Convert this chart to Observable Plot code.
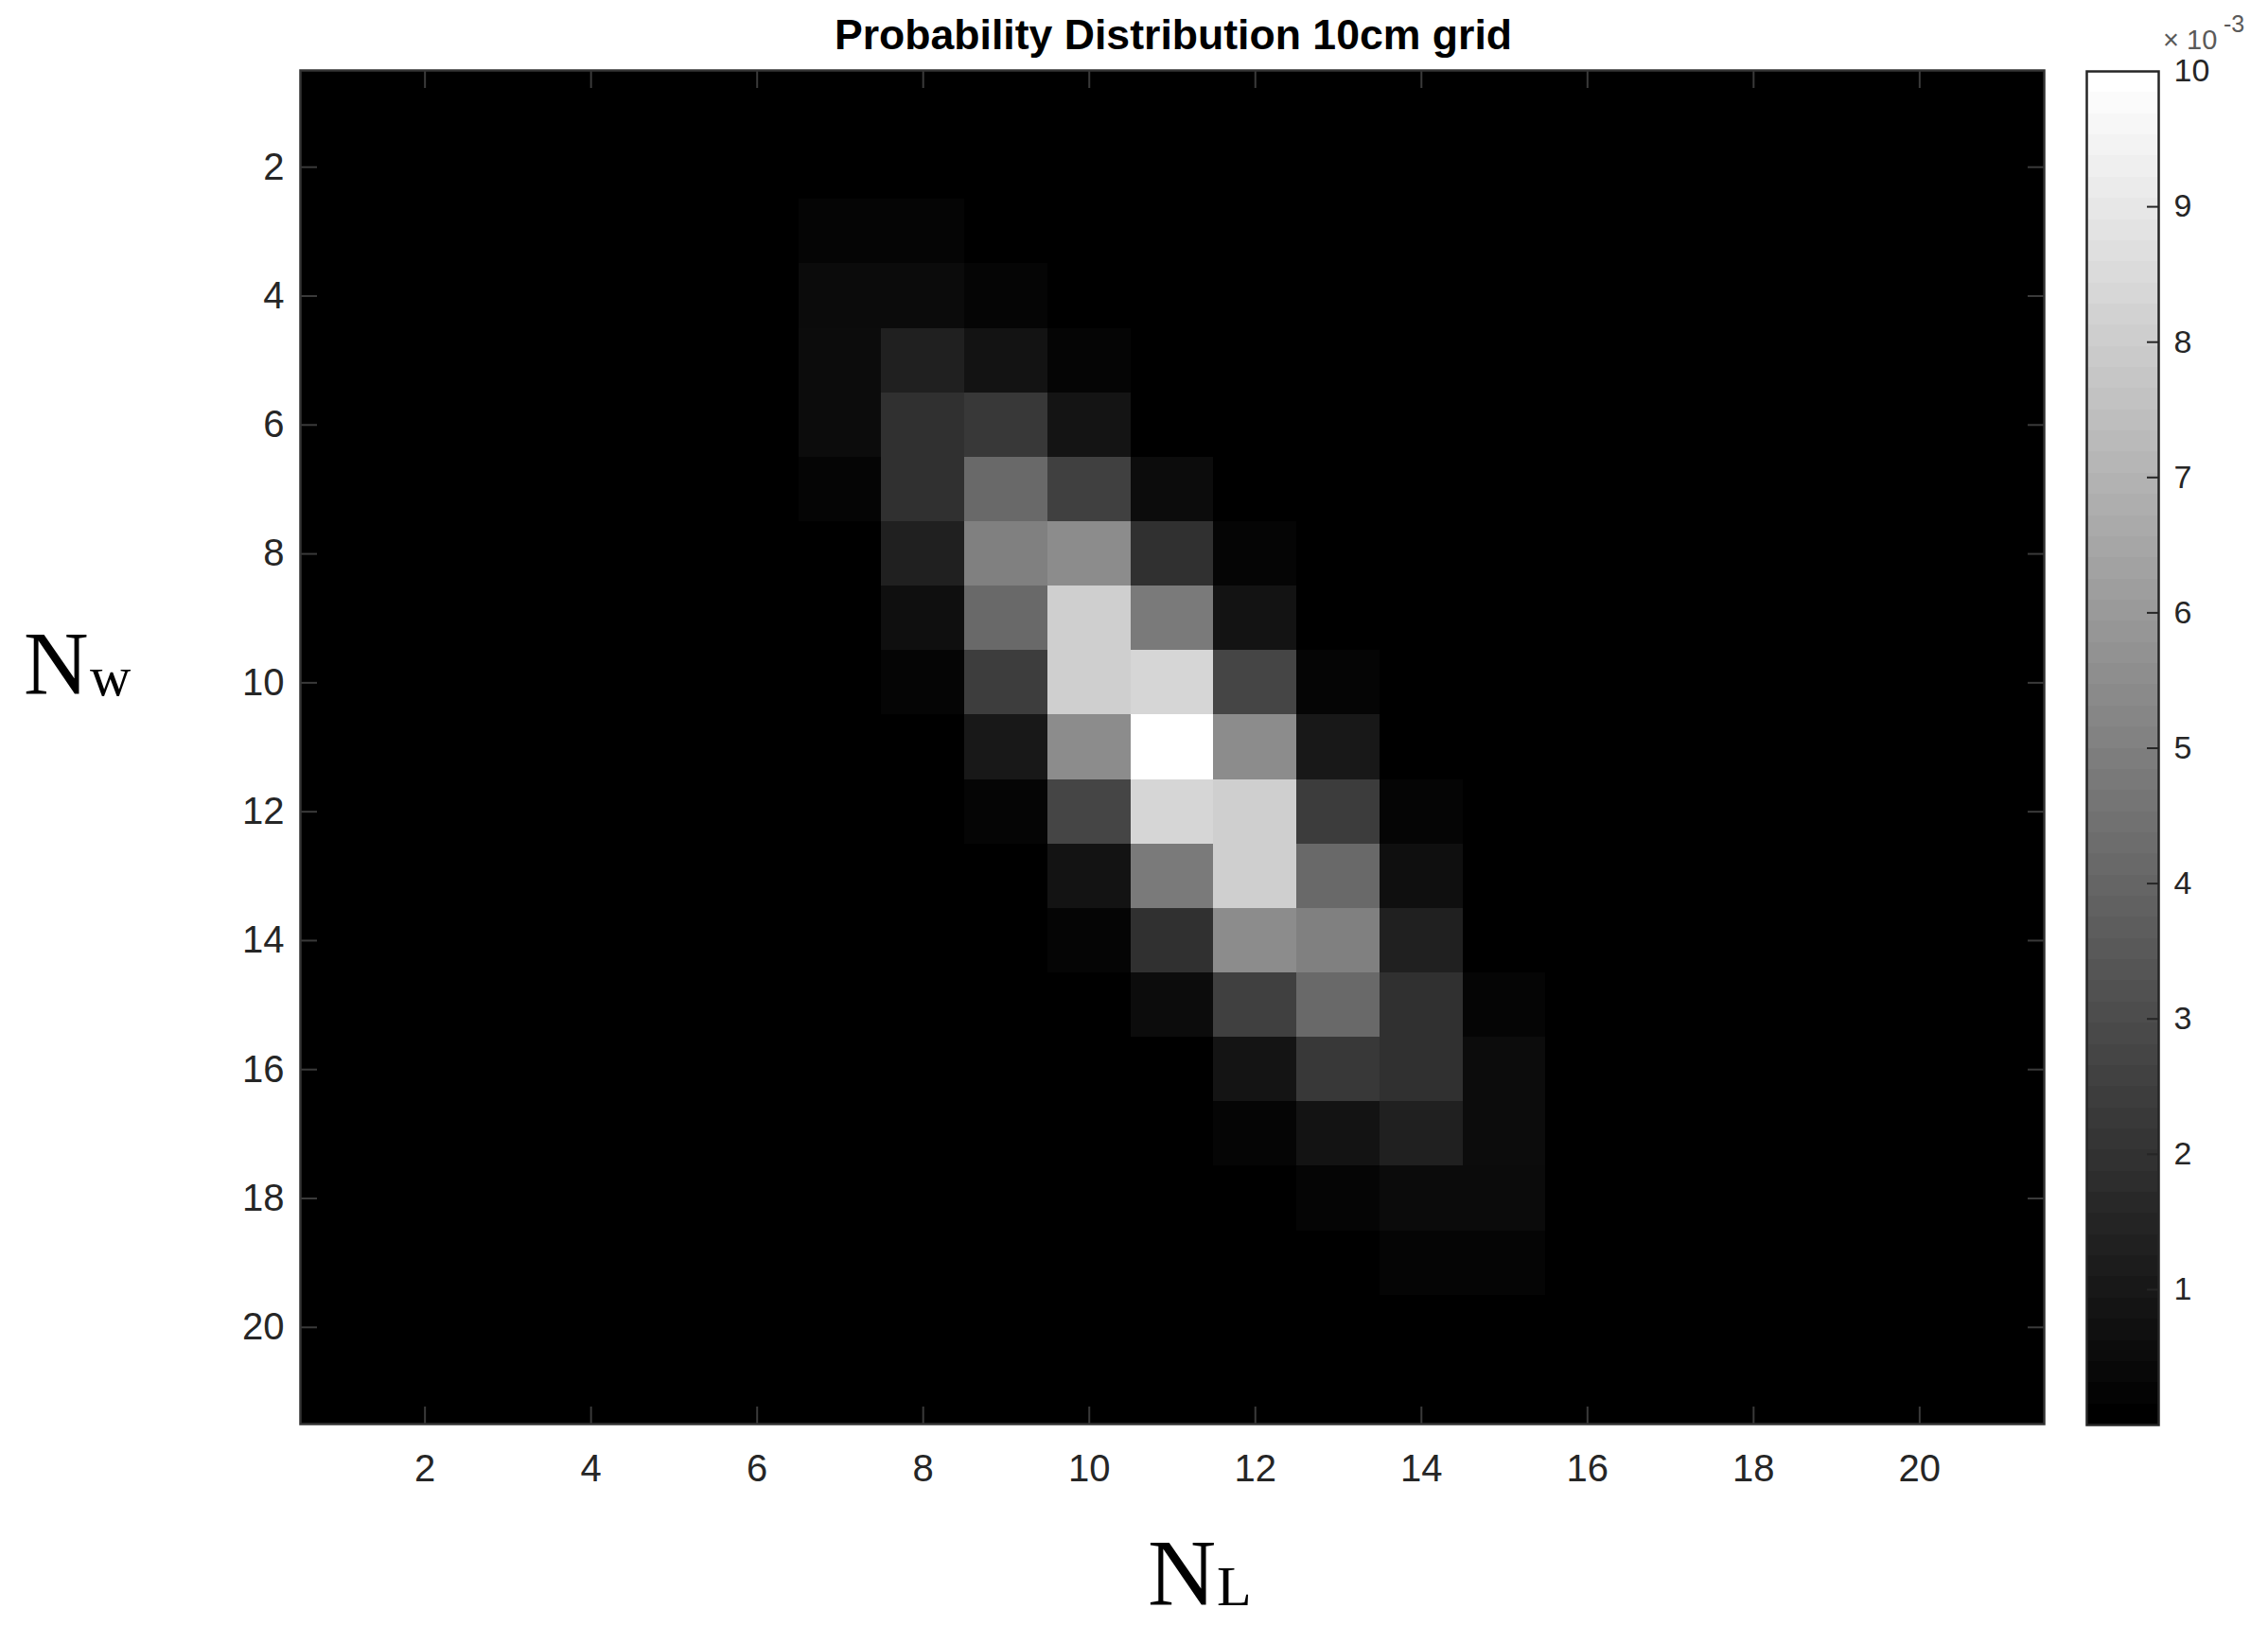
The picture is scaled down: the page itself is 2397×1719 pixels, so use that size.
<!DOCTYPE html>
<html>
<head>
<meta charset="utf-8">
<script src="https://cdn.jsdelivr.net/npm/d3@7"></script>
<script src="https://cdn.jsdelivr.net/npm/@observablehq/plot@0.6"></script>
<style>
html, body { margin: 0; padding: 0; background: #fff; }
#page { position: relative; width: 2397px; height: 1719px; overflow: hidden; background: #fff; }
.abs { position: absolute; white-space: nowrap; line-height: 1; }
.plot { position: absolute; top: 0; }
.serif { font-family: "Liberation Serif", "Times New Roman", serif; color: #000; }
</style>
</head>
<body>
<div id="page"></div>
<script>
// ---------- data ----------
const titleText = "Probability Distribution 10cm grid";
const nl = [1,2,3,4,5,6,7,8,9,10,11,12,13,14,15,16,17,18,19,20,21];   // columns (N_L)
const nw = [1,2,3,4,5,6,7,8,9,10,11,12,13,14,15,16,17,18,19,20,21];   // rows (N_W)
const nlTicks = [2,4,6,8,10,12,14,16,18,20];
const nwTicks = [2,4,6,8,10,12,14,16,18,20];
const colorbarTicks = [1,2,3,4,5,6,7,8,9,10];
const colorbarMax = 10;   // ×10^-3

// probability per cell, in units of 10^-3 (row = N_W, column = N_L)
const probRows = [
  [0,0,0,0,0,0,0,0,0,0,0,0,0,0,0,0,0,0,0,0,0],
  [0,0,0,0,0,0,0,0,0,0,0,0,0,0,0,0,0,0,0,0,0],
  [0,0,0,0,0,0,0.20,0.18,0,0,0,0,0,0,0,0,0,0,0,0,0],
  [0,0,0,0,0,0,0.43,0.43,0.20,0,0,0,0,0,0,0,0,0,0,0,0],
  [0,0,0,0,0,0,0.47,1.25,0.75,0.20,0,0,0,0,0,0,0,0,0,0,0],
  [0,0,0,0,0,0,0.47,1.88,2.20,0.78,0,0,0,0,0,0,0,0,0,0,0],
  [0,0,0,0,0,0,0.20,1.88,4.10,2.50,0.47,0,0,0,0,0,0,0,0,0,0],
  [0,0,0,0,0,0,0,1.25,5.00,5.50,1.88,0.20,0,0,0,0,0,0,0,0,0],
  [0,0,0,0,0,0,0,0.59,4.10,8.10,4.80,0.75,0,0,0,0,0,0,0,0,0],
  [0,0,0,0,0,0,0,0.20,2.40,8.10,8.40,2.70,0.20,0,0,0,0,0,0,0,0],
  [0,0,0,0,0,0,0,0,0.94,5.50,10.0,5.50,0.94,0,0,0,0,0,0,0,0],
  [0,0,0,0,0,0,0,0,0.20,2.70,8.40,8.10,2.35,0.20,0,0,0,0,0,0,0],
  [0,0,0,0,0,0,0,0,0,0.75,4.80,8.10,4.10,0.59,0,0,0,0,0,0,0],
  [0,0,0,0,0,0,0,0,0,0.20,1.88,5.50,5.00,1.25,0,0,0,0,0,0,0],
  [0,0,0,0,0,0,0,0,0,0,0.47,2.50,4.10,1.88,0.20,0,0,0,0,0,0],
  [0,0,0,0,0,0,0,0,0,0,0,0.78,2.20,1.88,0.47,0,0,0,0,0,0],
  [0,0,0,0,0,0,0,0,0,0,0,0.20,0.75,1.25,0.47,0,0,0,0,0,0],
  [0,0,0,0,0,0,0,0,0,0,0,0,0.20,0.43,0.43,0,0,0,0,0,0],
  [0,0,0,0,0,0,0,0,0,0,0,0,0,0.18,0.20,0,0,0,0,0,0],
  [0,0,0,0,0,0,0,0,0,0,0,0,0,0,0,0,0,0,0,0,0],
  [0,0,0,0,0,0,0,0,0,0,0,0,0,0,0,0,0,0,0,0,0]
];

// ---------- build ----------
const cells = [];
probRows.forEach((row, i) => row.forEach((p, j) => cells.push({nl: nl[j], nw: nw[i], p})));

const colorScale = {type: "linear", domain: [0, colorbarMax], range: ["#000000", "#ffffff"], interpolate: "rgb"};
const axisColor = "#262626";
const innerTick = "#3a3a3a";
const intFmt = d => String(d);
const noFmt = () => "";

const page = document.getElementById("page");

const main = Plot.plot({
  width: 2190, height: 1719,
  marginLeft: 317, marginRight: 30, marginTop: 74, marginBottom: 214,
  style: {fontFamily: "'Liberation Sans', Arial, sans-serif", fontSize: "40px", color: axisColor, background: "transparent", overflow: "visible"},
  x: {domain: [0.5, 21.5]},
  y: {domain: [0.5, 21.5], reverse: true},
  color: colorScale,
  marks: [
    Plot.frame({fill: "#000"}),
    Plot.rect(cells, {
      x1: d => d.nl - 0.5, x2: d => d.nl + 0.5,
      y1: d => d.nw - 0.5, y2: d => d.nw + 0.5,
      fill: "p", shapeRendering: "crispEdges"
    }),
    Plot.axisX(nlTicks, {anchor: "bottom", tickSize: 0, tickPadding: 32, tickFormat: intFmt, label: null, fill: axisColor}),
    Plot.axisX(nlTicks, {anchor: "bottom", tickSize: -18, tickFormat: noFmt, label: null, stroke: innerTick, strokeWidth: 2}),
    Plot.axisX(nlTicks, {anchor: "top", tickSize: -18, tickFormat: noFmt, label: null, stroke: innerTick, strokeWidth: 2}),
    Plot.axisY(nwTicks, {anchor: "left", tickSize: 0, tickPadding: 17, tickFormat: intFmt, label: null, fill: axisColor}),
    Plot.axisY(nwTicks, {anchor: "left", tickSize: -18, tickFormat: noFmt, label: null, stroke: innerTick, strokeWidth: 2}),
    Plot.axisY(nwTicks, {anchor: "right", tickSize: -18, tickFormat: noFmt, label: null, stroke: innerTick, strokeWidth: 2}),
    Plot.frame({stroke: "#333", strokeWidth: 2.5})
  ]
});
main.classList.add("plot");
main.style.left = "0px";
page.appendChild(main);

// colorbar (MATLAB-like 64-level gray colormap)
const levels = d3.range(64);
const cb = Plot.plot({
  width: 247, height: 1719,
  marginLeft: 55, marginRight: 116, marginTop: 75, marginBottom: 213,
  style: {fontFamily: "'Liberation Sans', Arial, sans-serif", fontSize: "34px", color: axisColor, background: "transparent", overflow: "visible"},
  y: {domain: [0, colorbarMax]},
  color: colorScale,
  marks: [
    Plot.rect(levels, {
      y1: d => d * colorbarMax / 64, y2: d => (d + 1) * colorbarMax / 64,
      fill: d => d / 63 * colorbarMax, shapeRendering: "crispEdges"
    }),
    Plot.axisY(colorbarTicks, {anchor: "right", tickSize: 0, tickPadding: 16, tickFormat: intFmt, label: null, fill: axisColor}),
    Plot.axisY(colorbarTicks.slice(0, 9), {anchor: "right", tickSize: -13, tickFormat: noFmt, label: null, stroke: axisColor, strokeWidth: 2}),
    Plot.frame({stroke: axisColor, strokeWidth: 2.5})
  ]
});
cb.classList.add("plot");
cb.style.left = "2150px";
page.appendChild(cb);

// ---------- texts ----------
function addText(html, css) {
  const d = document.createElement("div");
  d.className = "abs";
  d.innerHTML = html;
  Object.assign(d.style, css);
  page.appendChild(d);
  return d;
}
// title (baseline ~53)
addText(titleText, {left: "740px", width: "1000px", textAlign: "center", top: "15px",
  fontFamily: "'Liberation Sans', Arial, sans-serif", fontWeight: "bold", fontSize: "44.6px", color: "#000"});

// colorbar exponent ×10^-3
addText("×", {left: "2286px", top: "28px", fontFamily: "'Liberation Sans', Arial, sans-serif", fontSize: "29px", color: "#5a5a5a"});
addText("10", {left: "2311px", top: "28px", fontFamily: "'Liberation Sans', Arial, sans-serif", fontSize: "29px", color: "#5a5a5a"});
addText("-3", {left: "2350px", top: "13px", fontFamily: "'Liberation Sans', Arial, sans-serif", fontSize: "25px", color: "#5a5a5a"});

// axis labels
const nW = addText("N", {left: "25px", top: "655px", fontSize: "95px"}); nW.classList.add("serif");
const wW = addText("w", {left: "95px", top: "685px", fontSize: "60px"}); wW.classList.add("serif");
const nL = addText("N", {left: "1213px", top: "1613px", fontSize: "100px"}); nL.classList.add("serif");
const lL = addText("L", {left: "1286px", top: "1647px", fontSize: "60px"}); lL.classList.add("serif");
</script>
</body>
</html>
